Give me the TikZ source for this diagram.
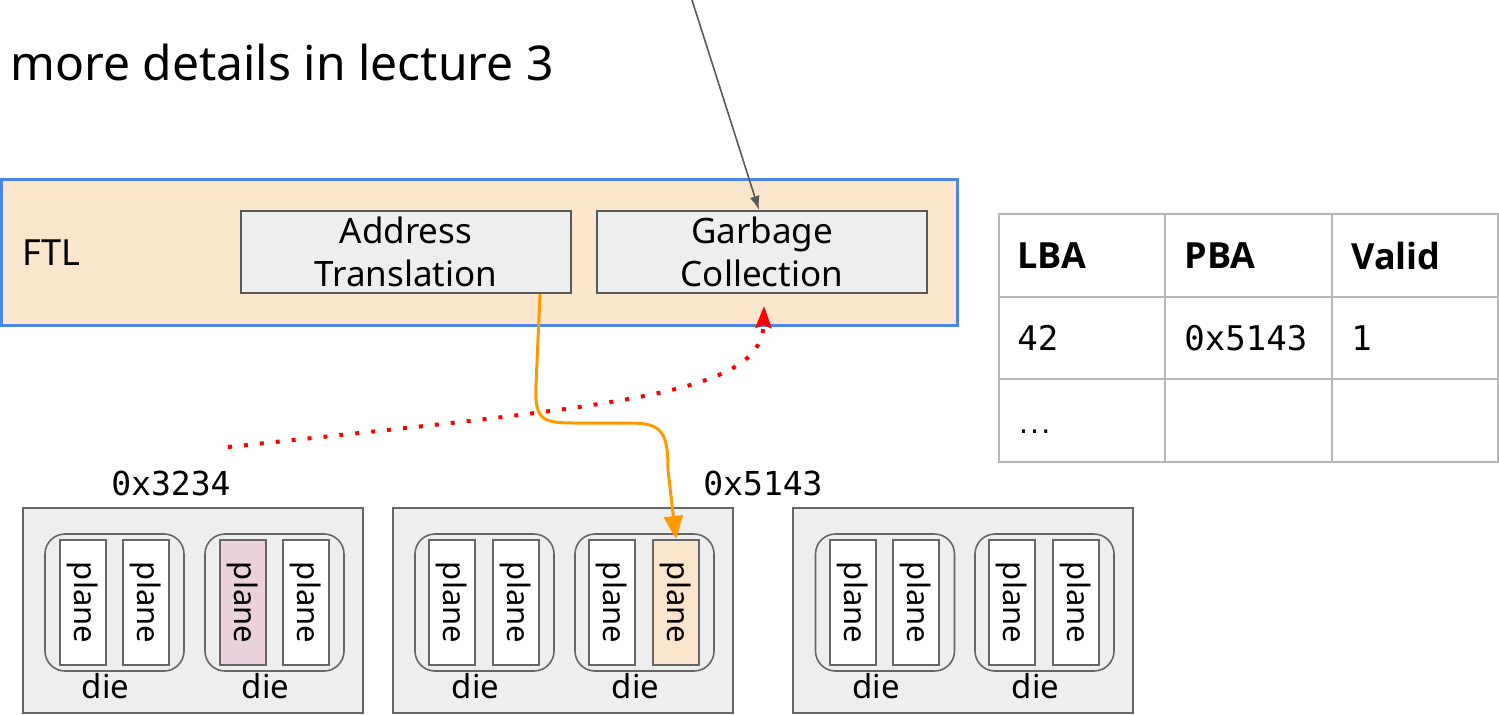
\documentclass[tikz,border=0pt]{standalone}
\usepackage{fontspec}
\setmainfont{Noto Sans}
\newfontfamily\codefont{DejaVu Sans Mono}
\newfontfamily\headfont{Open Sans}
\usepackage{tikz}
\usetikzlibrary{arrows.meta, positioning}
\definecolor{ftlfill}{RGB}{252, 229, 205}
\definecolor{ftlblue}{RGB}{74, 134, 232}
\definecolor{boxgray}{RGB}{238, 238, 238}
\definecolor{boxline}{RGB}{89, 89, 89}
\definecolor{chipline}{RGB}{102, 102, 102}
\definecolor{hitpink}{RGB}{234, 209, 220}
\definecolor{gridline}{RGB}{183, 183, 183}
\definecolor{mapline}{RGB}{255, 153, 0}

\begin{document}
\begin{tikzpicture}[
    x=0.5pt, y=-0.5pt,
    ftl/.style={rectangle, draw=ftlblue, fill=ftlfill, line width=1.5pt, minimum width=478pt, minimum height=73pt},
    comp/.style={rectangle, draw=boxline, fill=boxgray, line width=1pt, minimum width=165pt, minimum height=41pt, align=center, inner sep=0pt, font=\fontsize{17.5}{21.5}\selectfont},
    chip/.style={rectangle, draw=chipline, fill=boxgray, line width=1pt, minimum width=170pt, minimum height=102.5pt},
    diebox/.style={rectangle, draw=chipline, rounded corners=10pt, line width=0.8pt, minimum width=69.5pt, minimum height=68.5pt},
    plane/.style={rectangle, draw=chipline, fill=white, line width=1pt, rotate=-90, minimum width=62.5pt, minimum height=23pt, inner sep=0pt, font=\fontsize{15.5}{18}\selectfont},
    dielabel/.style={inner sep=0pt, xshift=-4.5pt, font=\fontsize{16.5}{19}\selectfont},
    addr/.style={inner sep=0pt, font=\codefont\fontsize{16.5}{19}\selectfont},
    cell/.style={anchor=west, inner sep=0pt, font=\codefont\fontsize{17}{20}\selectfont},
    head/.style={anchor=west, inner sep=0pt, font=\headfont\bfseries\fontsize{18}{21}\selectfont},
    maparrow/.style={-{Triangle[length=11.5pt, width=9.5pt]}, draw=mapline, line width=1.5pt},
    gcarrow/.style={-{Stealth[length=11pt, width=8pt, inset=1.5pt]}, draw=red, line width=2pt, dash pattern=on 2pt off 6pt},
    note/.style={-{Latex[length=7pt, width=5pt]}, draw=boxline, line width=0.8pt}
]
\useasboundingbox (0,0) rectangle (1499,714);

% note
\node[anchor=base west, inner sep=0pt, font=\fontsize{24}{29}\selectfont] (lecture) at (10,80) {more details in lecture 3};

% FTL
\node[ftl] (ftl) at (479,252) {};
\node[anchor=west, inner sep=0pt, font=\fontsize{18}{22}\selectfont] (ftlname) at (22,253) {FTL};
\node[comp] (atr) at (406,252) {Address\\Translation};
\node[comp, right=12pt of atr] (gc) {Garbage\\Collection};

% mapping table
\draw[gridline, line width=1pt] (999,214) rectangle (1498,462);
\draw[gridline, line width=1pt] (999,297) -- (1498,297) (999,379) -- (1498,379);
\draw[gridline, line width=1pt] (1165,214) -- (1165,462) (1332,214) -- (1332,462);
\node[head] (hlba) at (1017,255.5) {LBA};
\node[head] (hpba) at (1184,255.5) {PBA};
\node[head] (hvalid) at (1351,255.5) {Valid};
\node[cell] (lba) at (1017,338) {42};
\node[cell] (pba) at (1184,338) {0x5143};
\node[cell] (valid) at (1351,338) {1};
\node[cell, anchor=base west, font=\codefont\fontsize{12}{14}\selectfont] (dots) at (1016,433) {.\kern-1.7pt.\kern-1.7pt.};

% flash chips
\node[chip] (chipa) at (193,610.5) {};
\node[chip] (chipb) at (563,610.5) {};
\node[chip] (chipc) at (963,610.5) {};

\node[diebox] (diea1) at (114.5,602.5) {};
\node[diebox] (diea2) at (274.5,602.5) {};
\node[diebox] (dieb1) at (484.5,602.5) {};
\node[diebox] (dieb2) at (644.5,602.5) {};
\node[diebox] (diec1) at (885,602.5) {};
\node[diebox] (diec2) at (1044.5,602.5) {};

\node[plane] (pa1) at (82.5,602.5) {plane};
\node[plane] (pa2) at (146,602.5) {plane};
\node[plane, fill=hitpink] (pa3) at (242.5,602.5) {plane};
\node[plane] (pa4) at (306,602.5) {plane};
\node[plane] (pb1) at (452,602.5) {plane};
\node[plane] (pb2) at (516,602.5) {plane};
\node[plane] (pb3) at (612,602.5) {plane};
\node[plane, fill=ftlfill] (pb4) at (676,602.5) {plane};
\node[plane] (pc1) at (852.5,602.5) {plane};
\node[plane] (pc2) at (916,602.5) {plane};
\node[plane] (pc3) at (1012,602.5) {plane};
\node[plane] (pc4) at (1076,602.5) {plane};

\node[dielabel, below=0.5pt of diea1] {die};
\node[dielabel, below=0.5pt of diea2] {die};
\node[dielabel, below=0.5pt of dieb1] {die};
\node[dielabel, below=0.5pt of dieb2] {die};
\node[dielabel, below=0.5pt of diec1] {die};
\node[dielabel, below=0.5pt of diec2] {die};

\node[addr] (oldaddr) at (171,483) {0x3234};
\node[addr] (newaddr) at (763,483) {0x5143};

% arrows
\coordinate (top) at (692,0);
\coordinate (stale) at (228,447);
\draw[note] (top) -- ([xshift=-1.5pt]gc.north);
\draw[maparrow] ([xshift=67pt]atr.south) -- (536,385) .. controls (534,423) and (545,423) .. (580,423) -- (630,423) .. controls (662,423) and (668,432) .. (668,470) -- (pb4.west);
\draw[gcarrow] (stale) .. controls (620,405) and (762,395) .. ([xshift=1pt, yshift=-6pt]gc.south);

\end{tikzpicture}
\end{document}
